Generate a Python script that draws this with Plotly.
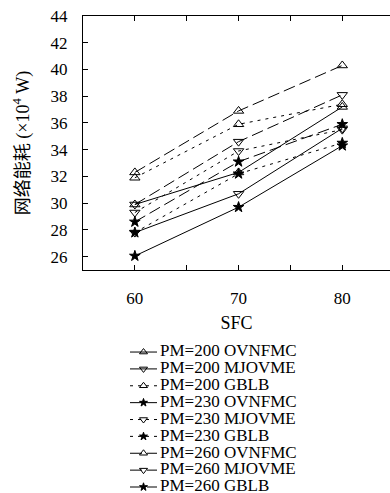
import plotly.graph_objects as go

sfc = [60, 70, 80]
names = [
    "PM=200 OVNFMC", "PM=200 MJOVME", "PM=200 GBLB",
    "PM=230 OVNFMC", "PM=230 MJOVME", "PM=230 GBLB",
    "PM=260 OVNFMC", "PM=260 MJOVME", "PM=260 GBLB",
]
pm200_ovnfmc = [29.9, 32.3, 37.2]
pm200_mjovme = [27.8, 30.7, 35.6]
pm200_gblb = [31.9, 35.9, 37.4]
pm230_ovnfmc = [26.05, 29.7, 34.3]
pm230_mjovme = [29.3, 33.9, 35.5]
pm230_gblb = [27.8, 32.2, 34.5]
pm260_ovnfmc = [32.3, 36.9, 40.3]
pm260_mjovme = [29.9, 34.6, 38.1]
pm260_gblb = [28.6, 33.1, 35.9]
series = [pm200_ovnfmc, pm200_mjovme, pm200_gblb, pm230_ovnfmc, pm230_mjovme,
          pm230_gblb, pm260_ovnfmc, pm260_mjovme, pm260_gblb]
yticks = [26, 28, 30, 32, 34, 36, 38, 40, 42, 44]
xticks = [60, 70, 80]

SOLID = "solid"
DOT = "3px,5px"
DASH = "12px,5px"
styles = [
    (SOLID, "triangle-up-open"), (SOLID, "triangle-down-open"), (DOT, "triangle-up-open"),
    (SOLID, "star"), (DOT, "triangle-down-open"), (DOT, "star"),
    (DASH, "triangle-up-open"), (DASH, "triangle-down-open"), (DASH, "star"),
]

FONT = "Liberation Serif, Noto Sans CJK SC, serif"
W, H = 390, 493
ML, MT = 83, 16
PW, PH = W - ML, H - MT

def px_x(p):
    return (p - ML) / PW

def px_y(p):
    return (H - p) / PH

fig = go.Figure()
for name, vals, (dash, sym) in zip(names, series, styles):
    fig.add_trace(go.Scatter(
        x=sfc, y=vals, mode="lines+markers", name=name, showlegend=False,
        line=dict(color="black", width=1, dash=dash),
        marker=dict(symbol=sym, size=9 if "star" not in sym else 8, color="black",
                    line=dict(color="black", width=1)),
        cliponaxis=False,
    ))

# legend drawn on its own axes
for i, (name, (dash, sym)) in enumerate(zip(names, styles)):
    fig.add_trace(go.Scatter(
        x=[0, 0.5, 1], y=[i, i, i], mode="lines+markers",
        line=dict(color="black", width=1, dash=dash),
        marker=dict(symbol=sym, size=7 if "star" not in sym else 6, color="black",
                    opacity=[0, 1, 0], line=dict(color="black", width=1)),
        xaxis="x2", yaxis="y2", showlegend=False, cliponaxis=False,
    ))
    fig.add_trace(go.Scatter(
        x=[1], y=[i], mode="text", text=[name], textposition="middle right",
        textfont=dict(family=FONT, size=17, color="black"),
        xaxis="x3", yaxis="y2", showlegend=False, cliponaxis=False,
    ))

axis_common = dict(showline=True, linecolor="black", linewidth=1, ticks="inside",
                   ticklen=5, tickcolor="black", showgrid=False, zeroline=False,
                   tickfont=dict(family=FONT, size=17, color="black"))

fig.update_layout(
    width=W, height=H,
    margin=dict(l=ML, r=0, t=MT, b=0, pad=0),
    paper_bgcolor="white", plot_bgcolor="white",
    font=dict(family=FONT, color="black"),
    xaxis=dict(domain=[0, 1], range=[55, 84.6], tickvals=xticks,
               minor=dict(tickvals=[65, 75], ticks="inside", ticklen=5, tickcolor="black",
                          showgrid=False),
               mirror="ticks", ticklabelstandoff=13, anchor="y",
               title=dict(text="SFC", font=dict(family=FONT, size=18), standoff=8),
               **axis_common),
    yaxis=dict(domain=[px_y(270), 1], range=[25, 44], tickvals=yticks,
               ticklabelstandoff=11, anchor="x",
               title=dict(text="网络能耗 (×10<sup>4</sup> W)",
                          font=dict(family=FONT, size=18), standoff=16),
               **axis_common),
    xaxis2=dict(domain=[px_x(130), px_x(157)], range=[0, 1], visible=False, anchor="y2"),
    xaxis3=dict(domain=[px_x(160), px_x(390)], range=[1, 2], visible=False, anchor="y2"),
    yaxis2=dict(domain=[px_y(492.06), px_y(343.6)], range=[8.3, -0.5], visible=False, anchor="x2"),
)

fig.write_html("out.html")
